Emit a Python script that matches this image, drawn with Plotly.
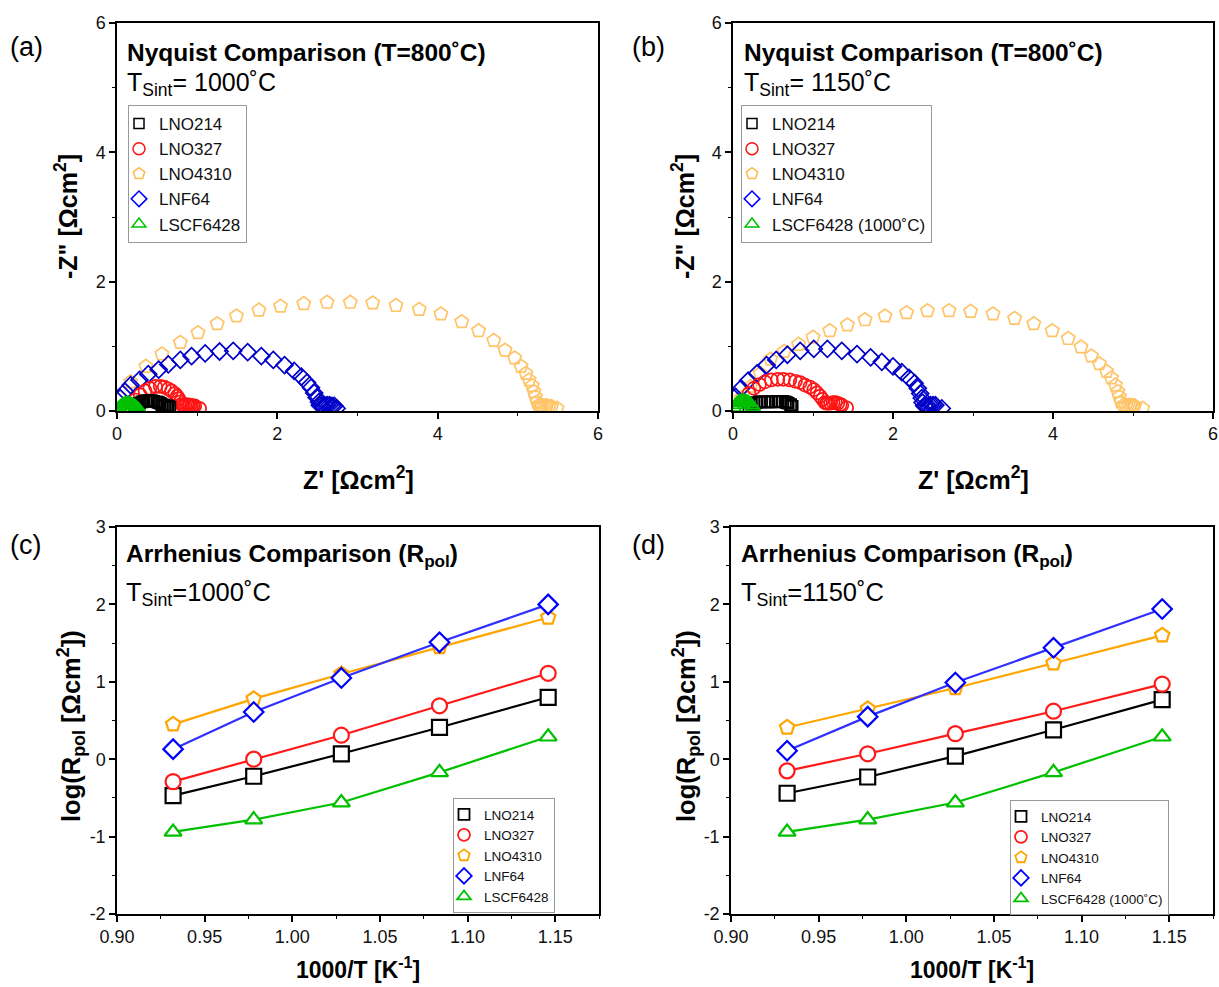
import plotly.graph_objects as go

W, H = 1219, 987

# ---------------- DATA ----------------
series_names = ["LNO214", "LNO327", "LNO4310", "LNF64", "LSCF6428"]

# Panel (a): Nyquist, T_sint = 1000 C
a_lno214_x = [0.22, 0.25, 0.28, 0.31, 0.34, 0.37, 0.40, 0.43, 0.46, 0.50, 0.52, 0.54, 0.56, 0.58, 0.60, 0.62, 0.64, 0.66]
a_lno214_y = [0.07, 0.10, 0.12, 0.14, 0.15, 0.16, 0.16, 0.16, 0.15, 0.14, 0.13, 0.12, 0.10, 0.09, 0.08, 0.08, 0.07, 0.06]
a_lno327_x = [0.23, 0.29, 0.35, 0.41, 0.48, 0.54, 0.59, 0.64, 0.68, 0.72, 0.75, 0.77, 0.79, 0.81, 0.83, 0.85, 0.87,
              0.89, 0.91, 0.93, 0.95, 0.97, 1.03]
a_lno327_y = [0.17, 0.25, 0.31, 0.35, 0.38, 0.38, 0.37, 0.34, 0.31, 0.27, 0.23, 0.19, 0.14, 0.10, 0.09, 0.09, 0.10,
              0.09, 0.09, 0.08, 0.08, 0.08, 0.04]
a_lno4310_x = [0.02, 0.17, 0.36, 0.56, 0.79, 1.01, 1.25, 1.49, 1.77, 2.04, 2.33, 2.62, 2.91, 3.19, 3.48, 3.77, 4.04,
               4.30, 4.51, 4.70, 4.84, 4.96, 5.04, 5.10, 5.14, 5.18, 5.20, 5.22, 5.24, 5.26, 5.28, 5.30, 5.33, 5.36,
               5.39, 5.42, 5.49]
a_lno4310_y = [0.22, 0.45, 0.69, 0.88, 1.06, 1.21, 1.35, 1.47, 1.56, 1.62, 1.66, 1.68, 1.68, 1.67, 1.63, 1.57, 1.50,
               1.38, 1.24, 1.09, 0.94, 0.82, 0.69, 0.58, 0.48, 0.39, 0.30, 0.22, 0.14, 0.09, 0.08, 0.07, 0.08, 0.08,
               0.07, 0.07, 0.04]
a_lnf64_x = [0.04, 0.10, 0.17, 0.28, 0.39, 0.52, 0.64, 0.79, 0.93, 1.10, 1.28, 1.45, 1.63, 1.80, 1.95, 2.09, 2.21,
             2.30, 2.37, 2.42, 2.46, 2.49, 2.52, 2.53, 2.55, 2.57, 2.60, 2.62, 2.65, 2.68, 2.71, 2.74]
a_lnf64_y = [0.20, 0.30, 0.40, 0.48, 0.57, 0.64, 0.72, 0.79, 0.85, 0.89, 0.92, 0.93, 0.91, 0.85, 0.79, 0.71, 0.62,
             0.53, 0.44, 0.36, 0.28, 0.21, 0.14, 0.09, 0.08, 0.07, 0.08, 0.09, 0.09, 0.08, 0.08, 0.04]
a_lscf_x = [0.01, 0.03, 0.05, 0.07, 0.09, 0.11, 0.13, 0.15, 0.17, 0.19, 0.21, 0.23, 0.25, 0.27]
a_lscf_y = [0.03, 0.06, 0.08, 0.10, 0.11, 0.12, 0.12, 0.12, 0.11, 0.10, 0.09, 0.07, 0.05, 0.03]

# Panel (b): Nyquist, T_sint = 1150 C
b_lno214_x = [0.20, 0.23, 0.26, 0.29, 0.33, 0.36, 0.40, 0.44, 0.48, 0.53, 0.56, 0.59, 0.62, 0.65, 0.67, 0.69, 0.72, 0.74]
b_lno214_y = [0.07, 0.10, 0.12, 0.13, 0.14, 0.14, 0.14, 0.14, 0.14, 0.14, 0.15, 0.15, 0.15, 0.14, 0.13, 0.12, 0.10, 0.07]
b_lno327_x = [0.20, 0.26, 0.33, 0.40, 0.48, 0.56, 0.63, 0.71, 0.78, 0.84, 0.90, 0.96, 1.01, 1.05, 1.09, 1.12, 1.15,
              1.17, 1.19, 1.22, 1.25, 1.28, 1.31, 1.34, 1.36, 1.42]
b_lno327_y = [0.27, 0.35, 0.41, 0.45, 0.48, 0.49, 0.49, 0.48, 0.46, 0.44, 0.40, 0.37, 0.33, 0.28, 0.23, 0.18, 0.13,
              0.12, 0.12, 0.12, 0.13, 0.13, 0.12, 0.10, 0.09, 0.05]
b_lno4310_x = [0.10, 0.22, 0.34, 0.47, 0.64, 0.82, 1.00, 1.21, 1.43, 1.65, 1.90, 2.17, 2.43, 2.70, 2.97, 3.25, 3.52,
               3.76, 3.99, 4.19, 4.35, 4.48, 4.58, 4.67, 4.73, 4.78, 4.81, 4.83, 4.85, 4.88, 4.91, 4.94, 4.97, 5.00,
               5.02, 5.12]
b_lno4310_y = [0.20, 0.38, 0.58, 0.80, 0.92, 1.03, 1.14, 1.24, 1.33, 1.41, 1.47, 1.52, 1.55, 1.55, 1.54, 1.50, 1.43,
               1.35, 1.24, 1.12, 0.99, 0.85, 0.73, 0.61, 0.51, 0.40, 0.30, 0.22, 0.14, 0.09, 0.08, 0.09, 0.09, 0.08,
               0.08, 0.04]
b_lnf64_x = [0.03, 0.10, 0.19, 0.30, 0.42, 0.54, 0.68, 0.84, 1.01, 1.18, 1.36, 1.55, 1.72, 1.86, 2.00, 2.11, 2.20,
             2.27, 2.31, 2.34, 2.36, 2.37, 2.39, 2.41, 2.44, 2.47, 2.50, 2.53, 2.61]
b_lnf64_y = [0.22, 0.35, 0.47, 0.58, 0.71, 0.79, 0.87, 0.93, 0.96, 0.96, 0.93, 0.88, 0.83, 0.76, 0.69, 0.60, 0.51,
             0.43, 0.35, 0.27, 0.20, 0.13, 0.08, 0.08, 0.08, 0.09, 0.09, 0.09, 0.04]
b_lscf_x = [0.01, 0.03, 0.05, 0.07, 0.09, 0.11, 0.13, 0.15, 0.17, 0.19, 0.21, 0.23, 0.25]
b_lscf_y = [0.05, 0.09, 0.12, 0.14, 0.15, 0.16, 0.16, 0.16, 0.15, 0.14, 0.12, 0.09, 0.06]

# Arrhenius: 1000/T values
inv_t = [0.932, 0.978, 1.028, 1.084, 1.146]

# Panel (c): log(Rpol), T_sint = 1000 C
c_lno214 = [-0.47, -0.22, 0.07, 0.41, 0.80]
c_lno327 = [-0.29, 0.00, 0.31, 0.69, 1.11]
c_lno4310 = [0.45, 0.78, 1.10, 1.45, 1.83]
c_lnf64 = [0.13, 0.61, 1.05, 1.51, 2.00]
c_lscf = [-0.94, -0.78, -0.56, -0.17, 0.29]

# Panel (d): log(Rpol), T_sint = 1150 C
d_lno214 = [-0.44, -0.23, 0.04, 0.38, 0.77]
d_lno327 = [-0.15, 0.07, 0.33, 0.62, 0.97]
d_lno4310 = [0.41, 0.65, 0.92, 1.24, 1.60]
d_lnf64 = [0.11, 0.55, 0.99, 1.44, 1.94]
d_lscf = [-0.94, -0.78, -0.56, -0.17, 0.29]

nyq_ticks = [0, 2, 4, 6]
arr_xticks = [0.90, 0.95, 1.00, 1.05, 1.10, 1.15]
arr_yticks = [-2, -1, 0, 1, 2, 3]

# ---------------- STYLE ----------------
FONT = "Liberation Sans, Arial, sans-serif"
nyq_colors = ["#000000", "#ff1414", "#ffc468", "#0000c8", "#00c000"]
nyq_leg_colors = ["#000000", "#ff1414", "#ffb84d", "#0000ff", "#00c000"]
arr_colors = ["#000000", "#ff1a1a", "#ffa500", "#2f2fff", "#00c000"]
arr_mk_colors = ["#000000", "#ff1a1a", "#ffa500", "#0000ff", "#00c000"]
nyq_symbols = ["square-open", "circle-open", "pentagon-open", "diamond-open", "triangle-up-open"]
arr_symbols = ["square", "circle", "pentagon", "diamond", "triangle-up"]


def X(px):
    return px / W


def Y(py):
    return 1 - py / H


fig = go.Figure()

nyq_a = [(a_lno214_x, a_lno214_y), (a_lno327_x, a_lno327_y), (a_lno4310_x, a_lno4310_y),
         (a_lnf64_x, a_lnf64_y), (a_lscf_x, a_lscf_y)]
nyq_b = [(b_lno214_x, b_lno214_y), (b_lno327_x, b_lno327_y), (b_lno4310_x, b_lno4310_y),
         (b_lnf64_x, b_lnf64_y), (b_lscf_x, b_lscf_y)]
arr_c = [c_lno214, c_lno327, c_lno4310, c_lnf64, c_lscf]
arr_d = [d_lno214, d_lno327, d_lno4310, d_lnf64, d_lscf]

nyq_sizes = [11, 13, 14, 13, 13]

for data, ax, leg, names in [
        (nyq_a, ("x", "y"), "legend", series_names),
        (nyq_b, ("x2", "y2"), "legend2", series_names[:4] + ["LSCF6428 (1000˚C)"])]:
    order = [2, 3, 1, 0, 4]
    for i in order:
        xs, ys = data[i]
        fig.add_trace(go.Scatter(
            x=xs, y=ys, mode="markers", name=names[i],
            xaxis=ax[0], yaxis=ax[1], legend=leg,
            marker=dict(symbol=nyq_symbols[i], size=nyq_sizes[i], color=nyq_colors[i],
                        line=dict(width=1.7, color=nyq_colors[i])),
            showlegend=False))
    for i in range(5):
        fig.add_trace(go.Scatter(
            x=[None], y=[None], mode="markers", name=names[i],
            xaxis=ax[0], yaxis=ax[1], legend=leg, legendrank=i + 1,
            marker=dict(symbol=nyq_symbols[i], size=12 if i != 0 else 10, color=nyq_leg_colors[i],
                        line=dict(width=1.5, color=nyq_leg_colors[i]))))

for data, ax, leg, names in [
        (arr_c, ("x3", "y3"), "legend3", series_names),
        (arr_d, ("x4", "y4"), "legend4", series_names[:4] + ["LSCF6428 (1000˚C)"])]:
    for i in range(5):
        fig.add_trace(go.Scatter(
            x=inv_t, y=data[i], mode="lines+markers", name=names[i],
            xaxis=ax[0], yaxis=ax[1], legend=leg, showlegend=False,
            line=dict(color=arr_colors[i], width=2.2),
            marker=dict(symbol=arr_symbols[i], size=15, color="white",
                        line=dict(width=2.2, color=arr_mk_colors[i]))))
    for i in range(5):
        fig.add_trace(go.Scatter(
            x=[None], y=[None], mode="markers", name=names[i],
            xaxis=ax[0], yaxis=ax[1], legend=leg, legendrank=i + 1,
            marker=dict(symbol=arr_symbols[i], size=12 if i != 0 else 11, color="white",
                        line=dict(width=1.8, color=arr_mk_colors[i]))))

# ---------------- AXES ----------------
dom = {
    "a": ([X(117), X(598)], [Y(411), Y(23)]),
    "b": ([X(733), X(1213)], [Y(411), Y(23)]),
    "c": ([X(117), X(599)], [Y(914), Y(527)]),
    "d": ([X(731), X(1213)], [Y(914), Y(527)]),
}

tickfont = dict(family=FONT, size=18, color="#111111")
base = dict(showgrid=False, zeroline=False, showline=True, linecolor="#000000", linewidth=1.5,
            mirror=True, ticks="outside", ticklen=6, tickwidth=1.5, tickcolor="#000000",
            tickfont=tickfont, automargin=False)

layout = dict(width=W, height=H, margin=dict(l=0, r=0, t=0, b=0, autoexpand=False),
              paper_bgcolor="white", plot_bgcolor="white", font=dict(family=FONT))

panels = [("a", "", "nyq"), ("b", "2", "nyq"), ("c", "3", "arr"), ("d", "4", "arr")]
for k, (p, s, kind) in enumerate(panels):
    xd, yd = dom[p]
    if kind == "nyq":
        xr, yr = [0, 6], [0, 6]
        xt = dict(tickmode="array", tickvals=nyq_ticks, ticktext=[str(v) for v in nyq_ticks])
        yt = dict(tickmode="array", tickvals=nyq_ticks, ticktext=[str(v) for v in nyq_ticks])
        xminor = dict(dtick=1, tick0=0)
        yminor = dict(dtick=1, tick0=0)
    else:
        xr, yr = [0.90, 1.175], [-2, 3]
        xt = dict(tickmode="array", tickvals=arr_xticks, ticktext=["%.2f" % v for v in arr_xticks])
        yt = dict(tickmode="array", tickvals=arr_yticks, ticktext=[str(v) for v in arr_yticks])
        xminor = dict(dtick=0.025, tick0=0.9)
        yminor = dict(dtick=0.5, tick0=0)
    layout["xaxis" + s] = dict(base, domain=xd, range=xr, anchor="y" + s, **xt,
                               minor=dict(ticks="outside", ticklen=3, tickwidth=1.2,
                                          tickcolor="#000000", **xminor))
    layout["yaxis" + s] = dict(base, domain=yd, range=yr, anchor="x" + s, **yt,
                               minor=dict(ticks="outside", ticklen=3, tickwidth=1.2,
                                          tickcolor="#000000", **yminor))
    ox = str(5 + k)
    layout["xaxis" + ox] = dict(overlaying="x" + s, side="top", anchor="y" + s, range=xr,
                                showgrid=False, zeroline=False, showline=False, automargin=False,
                                ticks="inside", ticklen=6, tickwidth=1.5, tickcolor="#000000",
                                showticklabels=False, **xt,
                                minor=dict(ticks="inside", ticklen=3, tickwidth=1.2,
                                           tickcolor="#000000", **xminor))
    layout["yaxis" + ox] = dict(overlaying="y" + s, side="right", anchor="x" + s, range=yr,
                                showgrid=False, zeroline=False, showline=False, automargin=False,
                                ticks="inside", ticklen=6, tickwidth=1.5, tickcolor="#000000",
                                showticklabels=False, **yt,
                                minor=dict(ticks="inside", ticklen=3, tickwidth=1.2,
                                           tickcolor="#000000", **yminor))

# ---------------- LEGENDS ----------------
leg_base = dict(xanchor="left", yanchor="top", bgcolor="rgba(255,255,255,1)",
                bordercolor="#9a9a9a", borderwidth=1, traceorder="normal",
                itemclick=False, itemdoubleclick=False, indentation=-10)
layout["legend"] = dict(leg_base, x=X(128), y=Y(105), font=dict(family=FONT, size=17, color="#111"))
layout["legend2"] = dict(leg_base, x=X(741), y=Y(105), font=dict(family=FONT, size=17, color="#111"))
layout["legend3"] = dict(leg_base, x=X(453), y=Y(798), font=dict(family=FONT, size=13.5, color="#111"))
layout["legend4"] = dict(leg_base, x=X(1010), y=Y(800), font=dict(family=FONT, size=13.5, color="#111"))

# ---------------- TEXT ----------------
ann = []


def text(px, py, t, size, bold=False, xanchor="left", angle=0):
    ann.append(dict(xref="paper", yref="paper", x=X(px), y=Y(py), text=("<b>%s</b>" % t) if bold else t,
                    showarrow=False, xanchor=xanchor, yanchor="middle", textangle=angle,
                    font=dict(family=FONT, size=size, color="#000000")))


for lbl, px, py in [("(a)", 8, 47), ("(b)", 630, 47), ("(c)", 8, 545), ("(d)", 630, 545)]:
    text(px, py, lbl, 27)

text(125, 52, "Nyquist Comparison (T=800˚C)", 24.5, bold=True)
text(742, 52, "Nyquist Comparison (T=800˚C)", 24.5, bold=True)
text(125, 84, "T<sub>Sint</sub>= 1000˚C", 25)
text(742, 84, "T<sub>Sint</sub>= 1150˚C", 25)
text(124, 555, "Arrhenius Comparison (R<sub>pol</sub>)", 24.5, bold=True)
text(739, 555, "Arrhenius Comparison (R<sub>pol</sub>)", 24.5, bold=True)
text(124, 594, "T<sub>Sint</sub>=1000˚C", 25.5)
text(739, 594, "T<sub>Sint</sub>=1150˚C", 25.5)

text(358, 478, "Z' [Ωcm<sup>2</sup>]", 25, bold=True, xanchor="center")
text(973, 478, "Z' [Ωcm<sup>2</sup>]", 25, bold=True, xanchor="center")
text(66, 217, '-Z" [Ωcm<sup>2</sup>]', 25, bold=True, xanchor="center", angle=-90)
text(683, 217, '-Z" [Ωcm<sup>2</sup>]', 25, bold=True, xanchor="center", angle=-90)
text(358, 968, "1000/T [K<sup>-1</sup>]", 23, bold=True, xanchor="center")
text(972, 968, "1000/T [K<sup>-1</sup>]", 23, bold=True, xanchor="center")
text(71, 726, "log(R<sub>pol</sub> [Ωcm<sup>2</sup>])", 25.5, bold=True, xanchor="center", angle=-90)
text(686, 726, "log(R<sub>pol</sub> [Ωcm<sup>2</sup>])", 25.5, bold=True, xanchor="center", angle=-90)

layout["annotations"] = ann
fig.update_layout(**layout)

fig.write_html("out.html", include_plotlyjs=True, full_html=True,
               config=dict(displayModeBar=False),
               post_script="document.body.style.margin='0px';document.body.style.overflow='hidden';")
